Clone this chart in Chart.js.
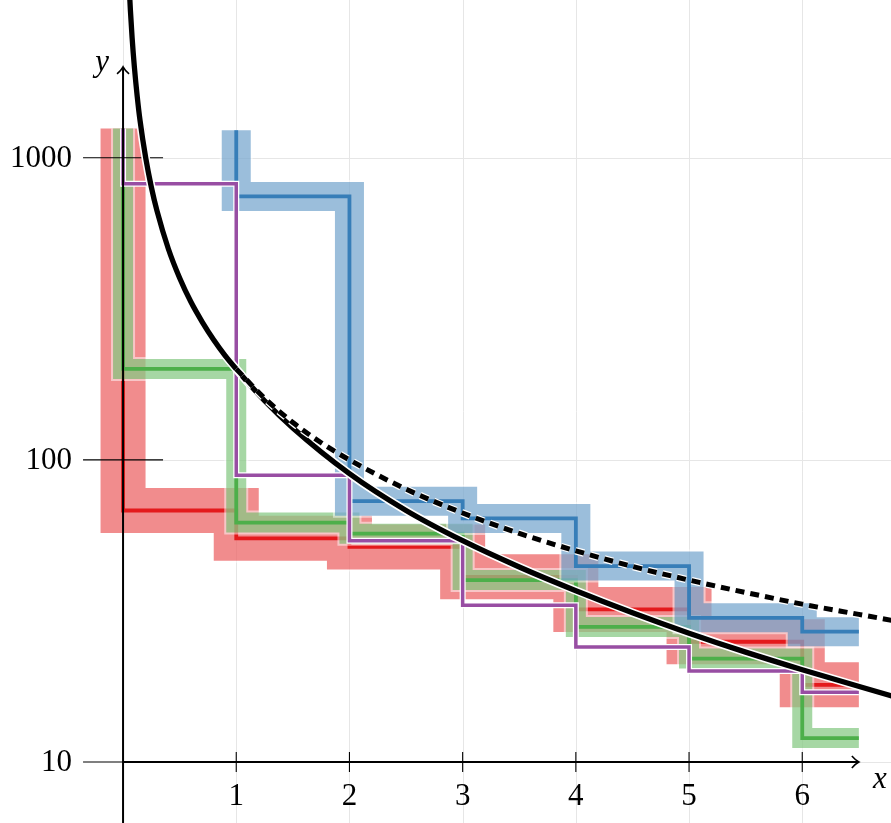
<!DOCTYPE html>
<html>
<head>
<meta charset="utf-8">
<script src="https://cdn.jsdelivr.net/npm/chart.js@4.4.0/dist/chart.umd.min.js"></script>
<style>
  html, body { margin: 0; padding: 0; background: #fff; }
  #wrap { width: 891px; height: 823px; }
</style>
</head>
<body>
<div id="wrap"><canvas id="chart" width="891" height="823"></canvas></div>
<script>
// step series: first value is where the vertical starts, then one level per interval
const stepX = [0, 1, 2, 3, 4, 5, 6, 6.5];
const redSteps = [1250, 68, 55, 51.5, 41, 32, 25, 18];
const greenSteps = [1250, 200, 62, 57, 40, 28, 22, 12];
const purpleSteps = [1250, 820, 89, 54, 33, 24, 20, 17];
const blueX = [1, 2, 3, 4, 5, 6, 6.5];
const blueSteps = [1235, 745, 73, 64, 44.5, 30, 27];

// black curves
const curveX = [0.055, 0.065, 0.08, 0.1, 0.125, 0.15, 0.2, 0.25, 0.3, 0.4, 0.5, 0.6, 0.7, 0.8, 0.9, 1,
  1.25, 1.5, 2, 2.5, 3, 3.5, 4, 4.5, 5, 5.5, 6, 6.8];
const curveY = [3640, 3080, 2500, 2000, 1600, 1330, 1000, 800, 667, 500, 400, 333, 286, 250, 222, 200,
  157, 127.5, 90, 68, 54, 44.2, 36.9, 31.2, 26.7, 23.1, 20.2, 16.5];
const dottedX = [1, 1.25, 1.5, 1.75, 2, 2.5, 3, 3.5, 4, 4.5, 5, 5.5, 6, 6.5, 6.8];
const dottedY = [200, 160, 133, 114, 100, 80, 66.7, 57.1, 50, 44.4, 40, 36.4, 33.3, 30.8, 29.4];

const xTicks = [1, 2, 3, 4, 5, 6];
const xGrid = [0, 1, 2, 3, 4, 5, 6];
const yTicks = [10, 100, 1000];
const yTickLabels = ["10", "100", "1000"];

const X_MIN = -1.087, X_MAX = 6.784, Y_MIN = 6.28, Y_MAX = 3330;
const X_AXIS_END = 6.5, Y_AXIS_END = 2000;

function toPoints(xs, ys) {
  return xs.map((x, i) => ({ x: x, y: ys[i] }));
}

function stepLine(xs, ys, color, width) {
  return {
    data: toPoints(xs, ys),
    borderColor: color,
    borderWidth: width,
    stepped: "after",
    borderJoinStyle: "miter",
    borderCapStyle: "butt",
    pointRadius: 0,
    fill: false,
  };
}

function curve(xs, ys, color, width, dash) {
  return {
    data: toPoints(xs, ys),
    borderColor: color,
    borderWidth: width,
    borderDash: dash || [],
    cubicInterpolationMode: "monotone",
    borderCapStyle: "butt",
    pointRadius: 0,
    fill: false,
  };
}

const HALO = "rgba(255,255,255,0.5)";
const datasets = [
  stepLine(stepX, redSteps, HALO, 49),
  stepLine(stepX, redSteps, "rgba(228,26,28,0.5)", 45),
  stepLine(stepX, redSteps, "#e41a1c", 3.8),
  stepLine(stepX, greenSteps, HALO, 24),
  stepLine(stepX, greenSteps, "rgba(77,175,74,0.5)", 20),
  stepLine(stepX, greenSteps, "#4daf4a", 3.8),
  stepLine(blueX, blueSteps, HALO, 33),
  stepLine(blueX, blueSteps, "rgba(55,126,184,0.5)", 29),
  stepLine(blueX, blueSteps, "#377eb8", 3.8),
  stepLine(stepX, purpleSteps, "#ffffff", 6),
  stepLine(stepX, purpleSteps, "#984ea3", 3.5),
  curve(curveX, curveY, "#ffffff", 8.5),
  curve(curveX, curveY, "#000000", 5.3),
  curve(dottedX, dottedY, "#ffffff", 7.5, [9, 6]),
  curve(dottedX, dottedY, "#000000", 5, [9, 6]),
];
// first dataset at the bottom
datasets.forEach((d, i) => { d.order = -i; });
const AXES_AFTER = 10;

const axesPlugin = {
  id: "axes",
  beforeDatasetsDraw(chart) {
    const ctx = chart.ctx;
    const x = chart.scales.x, y = chart.scales.y;
    const area = chart.chartArea;
    ctx.save();
    ctx.strokeStyle = "#e6e6e6";
    ctx.lineWidth = 1;
    xGrid.forEach((v) => {
      const px = Math.round(x.getPixelForValue(v)) + 0.5;
      ctx.beginPath();
      ctx.moveTo(px, area.top);
      ctx.lineTo(px, area.bottom);
      ctx.stroke();
    });
    yTicks.forEach((v) => {
      const py = Math.round(y.getPixelForValue(v)) + 0.5;
      ctx.beginPath();
      ctx.moveTo(x.getPixelForValue(0), py);
      ctx.lineTo(area.right, py);
      ctx.stroke();
    });
    ctx.restore();
  },
  afterDatasetDraw(chart, args) {
    if (args.index !== AXES_AFTER) return;
    const ctx = chart.ctx;
    const x = chart.scales.x, y = chart.scales.y;
    const area = chart.chartArea;
    const x0 = x.getPixelForValue(0);
    const y0 = y.getPixelForValue(10);
    ctx.save();
    ctx.strokeStyle = "#000";
    ctx.fillStyle = "#000";

    // tick marks
    ctx.lineWidth = 1.1;
    yTicks.forEach((v) => {
      const py = y.getPixelForValue(v);
      ctx.beginPath();
      ctx.moveTo(x0 - 40, py);
      ctx.lineTo(x0 + 40, py);
      ctx.stroke();
    });
    xTicks.forEach((v) => {
      const px = x.getPixelForValue(v);
      ctx.beginPath();
      ctx.moveTo(px, y0 - 10);
      ctx.lineTo(px, y0 + 10);
      ctx.stroke();
    });

    // axis lines with arrows
    const xEnd = x.getPixelForValue(X_AXIS_END);
    const yEnd = y.getPixelForValue(Y_AXIS_END);
    ctx.lineWidth = 2;
    ctx.beginPath();
    ctx.moveTo(x0, y0);
    ctx.lineTo(xEnd, y0);
    ctx.moveTo(x0, area.bottom);
    ctx.lineTo(x0, yEnd);
    ctx.stroke();
    ctx.lineWidth = 1.6;
    ctx.beginPath();
    ctx.moveTo(xEnd - 7, y0 - 6);
    ctx.quadraticCurveTo(xEnd - 3, y0 - 1.5, xEnd, y0);
    ctx.quadraticCurveTo(xEnd - 3, y0 + 1.5, xEnd - 7, y0 + 6);
    ctx.moveTo(x0 - 6, yEnd + 7);
    ctx.quadraticCurveTo(x0 - 1.5, yEnd + 3, x0, yEnd);
    ctx.quadraticCurveTo(x0 + 1.5, yEnd + 3, x0 + 6, yEnd + 7);
    ctx.stroke();

    // tick labels
    ctx.font = '31px "Liberation Serif", "DejaVu Serif", serif';
    ctx.textAlign = "right";
    ctx.textBaseline = "middle";
    yTicks.forEach((v, i) => {
      ctx.fillText(yTickLabels[i], 72, y.getPixelForValue(v) + 1);
    });
    ctx.textAlign = "center";
    ctx.textBaseline = "alphabetic";
    xTicks.forEach((v) => {
      ctx.fillText(String(v), x.getPixelForValue(v), y0 + 43);
    });

    // axis names
    ctx.font = 'italic 31px "Liberation Serif", "DejaVu Serif", serif';
    ctx.fillText("y", x0 - 21, yEnd + 4);
    ctx.fillText("x", xEnd + 21, y0 + 26);
    ctx.restore();
  },
};

new Chart(document.getElementById("chart"), {
  type: "line",
  data: { datasets: datasets },
  options: {
    responsive: false,
    devicePixelRatio: 1,
    animation: false,
    layout: { padding: 0 },
    plugins: { legend: { display: false }, tooltip: { enabled: false } },
    scales: {
      x: { type: "linear", min: X_MIN, max: X_MAX, display: false },
      y: { type: "logarithmic", min: Y_MIN, max: Y_MAX, display: false },
    },
  },
  plugins: [axesPlugin],
});
</script>
</body>
</html>
